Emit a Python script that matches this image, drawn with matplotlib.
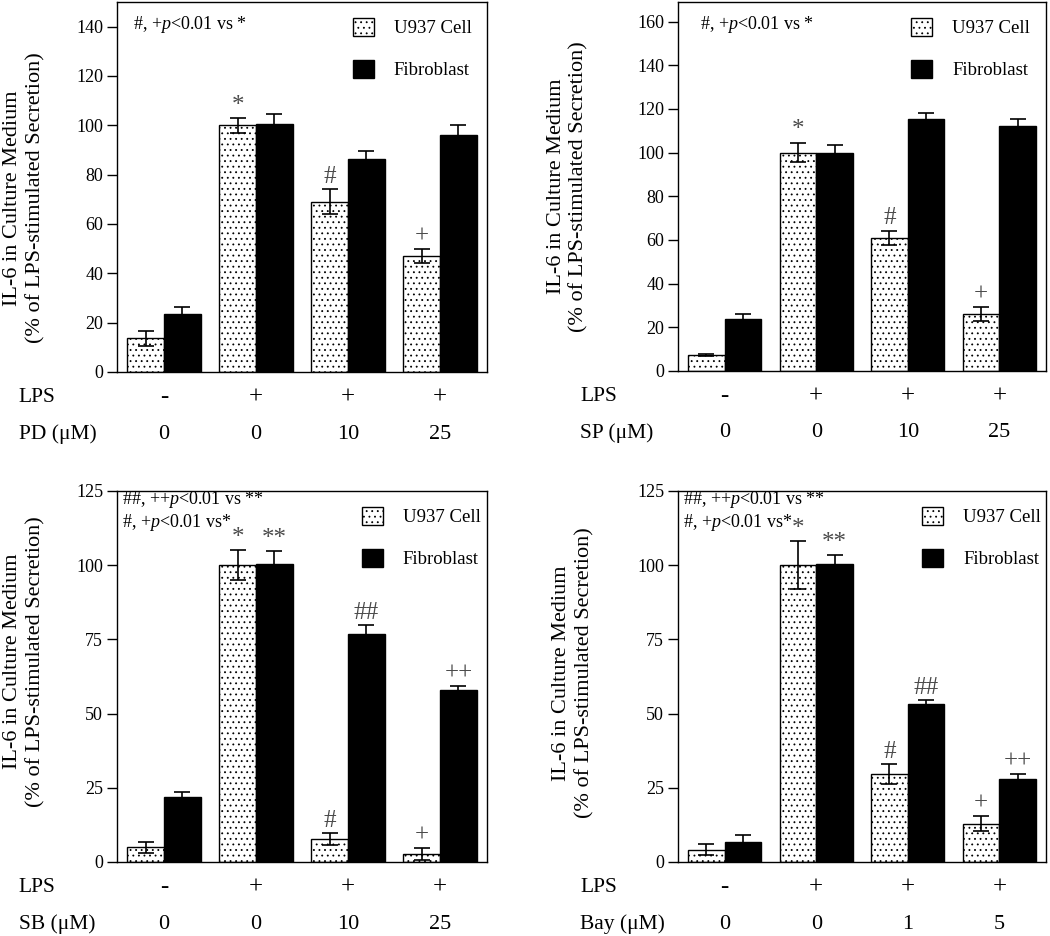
import matplotlib
matplotlib.use("Agg")
import matplotlib.pyplot as plt
import numpy as np

plt.rcParams['font.family'] = ['Liberation Serif', 'DejaVu Serif']
plt.rcParams['mathtext.fontset'] = 'custom'
plt.rcParams['mathtext.rm'] = 'Liberation Serif'
plt.rcParams['mathtext.it'] = 'Liberation Serif:italic'
plt.rcParams['hatch.linewidth'] = 0.6

series_names = ['U937 Cell', 'Fibroblast']
lps_labels = ['-', '+', '+', '+']

# panel A: PD
pd_doses = ['0', '0', '10', '25']
pd_u937 = [13.6, 100.0, 69.0, 47.0]
pd_u937_err = [3.0, 3.0, 5.0, 3.0]
pd_fibro = [23.5, 100.7, 86.5, 96.0]
pd_fibro_err = [2.7, 3.8, 3.0, 4.0]
pd_sig = [(1, 0, '*'), (2, 0, '#'), (3, 0, '+')]

# panel B: SP
sp_doses = ['0', '0', '10', '25']
sp_u937 = [7.5, 100.0, 61.0, 26.0]
sp_u937_err = [0.5, 4.5, 3.3, 3.3]
sp_fibro = [24.0, 100.0, 115.5, 112.0]
sp_fibro_err = [2.0, 3.5, 2.6, 3.4]
sp_sig = [(1, 0, '*'), (2, 0, '#'), (3, 0, '+')]

# panel C: SB
sb_doses = ['0', '0', '10', '25']
sb_u937 = [4.9, 100.0, 7.7, 2.7]
sb_u937_err = [1.8, 5.0, 2.1, 2.0]
sb_fibro = [21.8, 100.3, 76.7, 58.0]
sb_fibro_err = [1.8, 4.5, 3.0, 1.4]
sb_sig = [(1, 0, '*'), (1, 1, '**'), (2, 0, '#'), (2, 1, '##'), (3, 0, '+'), (3, 1, '++')]

# panel D: Bay
bay_doses = ['0', '0', '1', '5']
bay_u937 = [4.2, 100.0, 29.7, 12.9]
bay_u937_err = [2.0, 8.0, 3.3, 2.5]
bay_fibro = [6.7, 100.3, 53.1, 28.0]
bay_fibro_err = [2.3, 3.0, 1.5, 1.8]
bay_sig = [(1, 0, '*'), (1, 1, '**'), (2, 0, '#'), (2, 1, '##'), (3, 0, '+'), (3, 1, '++')]

note_one = ['#, +$p$<0.01 vs *']
note_two = ['##, ++$p$<0.01 vs **', '#, +$p$<0.01 vs*']

W, H = 1050, 936
fig = plt.figure(figsize=(W / 100, H / 100), dpi=100)


def add_axes_px(left, right, top, bottom):
    return fig.add_axes([left / W, 1 - bottom / H, (right - left) / W, (bottom - top) / H])


def draw_panel(ax, u937, u937_err, fibro, fibro_err, sig, drug, doses,
               ymax, ystep, notes, note_x, legend_x, ylabel_x, ylabel_y):
    x = np.arange(len(u937))
    w = 0.4
    b1 = ax.bar(x - w / 2, u937, w, color='white', edgecolor='black',
                hatch='...', linewidth=1.0, zorder=2)
    b2 = ax.bar(x + w / 2, fibro, w, color='black', edgecolor='black',
                linewidth=1.0, zorder=2)
    ax.errorbar(x - w / 2, u937, yerr=u937_err, fmt='none', ecolor='black',
                elinewidth=1.2, capsize=6, capthick=1.2, zorder=3)
    ax.errorbar(x + w / 2, fibro, yerr=fibro_err, fmt='none', ecolor='black',
                elinewidth=1.2, capsize=6, capthick=1.2, zorder=1)

    means = [u937, fibro]
    errs = [u937_err, fibro_err]
    for g, s, label in sig:
        xpos = x[g] + (s - 0.5) * w
        ytop = means[s][g] + errs[s][g]
        ax.annotate(label, (xpos, ytop), xytext=(0, 1), textcoords='offset points',
                    ha='center', va='bottom', fontsize=18, color='#4a4a4a')

    ax.set_xlim(-0.51, 3.51)
    ax.set_ylim(0, ymax)
    ax.set_yticks(np.arange(0, ymax + 0.1, ystep))
    ax.set_xticks([])
    ax.tick_params(axis='y', direction='out', length=7, width=1.0, labelsize=13, pad=3)
    for sp in ax.spines.values():
        sp.set_linewidth(1.0)

    ax.legend([b1, b2], series_names, loc='upper left', bbox_to_anchor=(legend_x, 0.957),
              frameon=False, fontsize=13.5, handlelength=1.12, handleheight=1.12,
              handletextpad=1.05, labelspacing=1.2, borderpad=0, borderaxespad=0)

    for i, note in enumerate(notes):
        ty = 0.94 if len(notes) == 1 else 0.978 - 0.062 * i
        ax.text(note_x, ty, note, transform=ax.transAxes, fontsize=13,
                ha='left', va='center')

    ax.text(ylabel_x, ylabel_y, 'IL-6 in Culture Medium\n(% of LPS-stimulated Secretion)',
            transform=ax.transAxes, rotation=90, ha='center', va='center',
            fontsize=16, linespacing=1.25, multialignment='center')

    trans = ax.get_xaxis_transform()
    ax.text(-0.266, -0.068, 'LPS', transform=ax.transAxes, fontsize=15.5,
            ha='left', va='center')
    ax.text(-0.266, -0.168, drug + ' (\u03bcM)', transform=ax.transAxes,
            fontsize=15.5, ha='left', va='center')
    for i in range(len(x)):
        ax.text(x[i], -0.068, lps_labels[i], transform=trans, fontsize=18,
                ha='center', va='center')
        ax.text(x[i], -0.168, doses[i], transform=trans, fontsize=16,
                ha='center', va='center')


ax_a = add_axes_px(117, 487, 2, 372)
draw_panel(ax_a, pd_u937, pd_u937_err, pd_fibro, pd_fibro_err, pd_sig, 'PD', pd_doses,
           150, 20, note_one, 0.043, 0.638, -0.25, 0.47)

ax_b = add_axes_px(678, 1046, 2, 371)
draw_panel(ax_b, sp_u937, sp_u937_err, sp_fibro, sp_fibro_err, sp_sig, 'SP', sp_doses,
           169, 20, note_one, 0.06, 0.634, -0.30, 0.5)

ax_c = add_axes_px(117, 487, 491, 862)
draw_panel(ax_c, sb_u937, sb_u937_err, sb_fibro, sb_fibro_err, sb_sig, 'SB', sb_doses,
           125, 25, note_two, 0.0135, 0.662, -0.25, 0.54)

ax_d = add_axes_px(678, 1046, 491, 862)
draw_panel(ax_d, bay_u937, bay_u937_err, bay_fibro, bay_fibro_err, bay_sig, 'Bay', bay_doses,
           125, 25, note_two, 0.0136, 0.664, -0.285, 0.51)

fig.savefig('out.png', dpi=100)
